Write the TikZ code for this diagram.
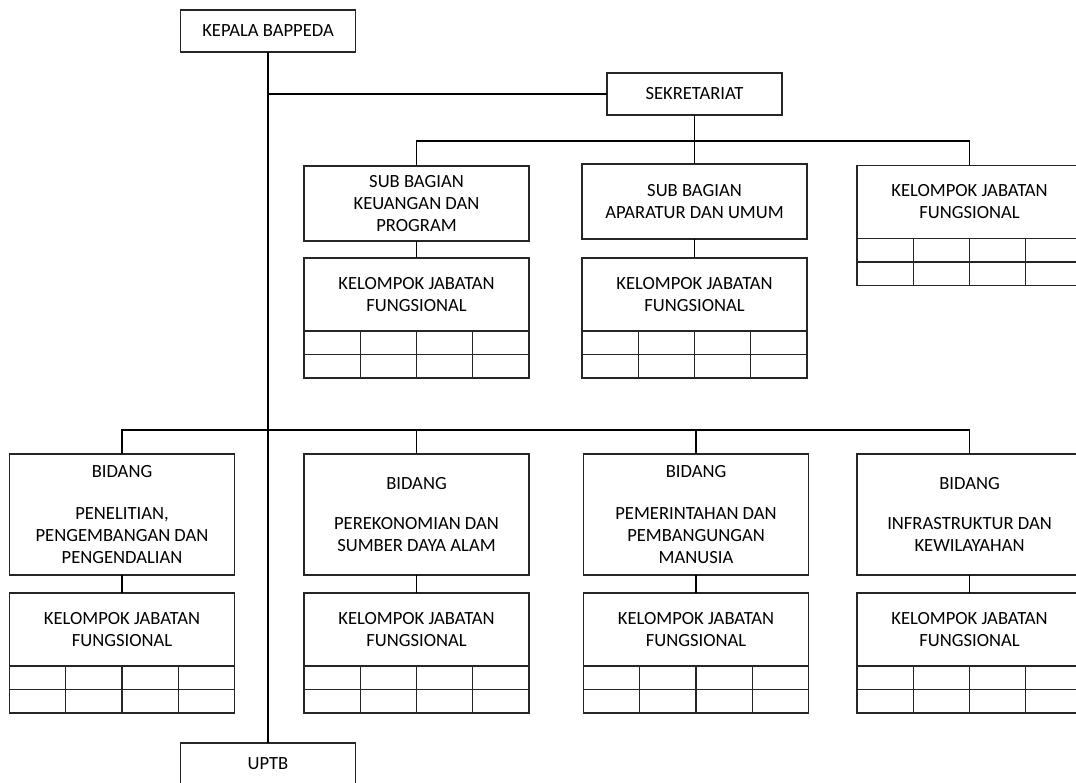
\documentclass[tikz,border=0pt]{standalone}
\usepackage{fontspec}
\setmainfont{Carlito}
\usepackage{tikz}
\usetikzlibrary{calc, positioning}

\tikzset{
  unit/.style = {draw = black!85, line width = 1.1pt, fill = white, align = center,
    inner sep = 0pt, outer sep = 0pt, font = \fontsize{18.6}{22}\selectfont},
  small unit/.style = {unit, minimum width = 175, minimum height = 42},
  sub unit/.style = {unit, minimum width = 225, minimum height = 75},
  kjf unit/.style = {unit, minimum width = 225, minimum height = 73},
  bid unit/.style = {unit, minimum width = 225, minimum height = 121},
  link/.style = {draw = black, line width = 1.1pt}
}
% table of four columns and two rows under a KELOMPOK JABATAN box
\newcommand{\kjfgrid}[1]{%
  \draw[link, draw = black!85] (#1.south west) rectangle ++(225,47);
  \draw[link, draw = black!85] ($(#1.south west)+(0,23.5)$) -- ++(225,0);
  \foreach \c in {1,2,3}
    \draw[link, draw = black!85] ($(#1.south west)+(56.25*\c,0)$) -- ++(0,47);
}

\begin{document}
\begin{tikzpicture}[x=1pt, y=-1pt]
      \clip (0, 0) rectangle (1076, 783);
      \fill[white] (0, 0) rectangle (1076, 783);

      % top level
      \node[small unit] (kepala) at (268, 31) {KEPALA BAPPEDA};
      \node[small unit] (sekre) at (694.5, 94) {SEKRETARIAT};
      \node[small unit] (uptb) at (268, 764) {UPTB};

      % sekretariat branch
      \node[sub unit] (subku) at (416.5, 203.5) {SUB BAGIAN\\KEUANGAN DAN\\PROGRAM};
      \node[sub unit] (subau) at (694.5, 201.5) {SUB BAGIAN\\APARATUR DAN UMUM};
      \node[kjf unit] (kjfsek) at (969.5, 202) {KELOMPOK JABATAN\\FUNGSIONAL};
      \node[kjf unit] (kjfku) at (416.5, 294.5) {KELOMPOK JABATAN\\FUNGSIONAL};
      \node[kjf unit] (kjfau) at (694.5, 294.5) {KELOMPOK JABATAN\\FUNGSIONAL};

      % bidang row
      \node[bid unit] (bidpp) at (122, 514.5) {BIDANG\\[20pt]PENELITIAN,\\PENGEMBANGAN DAN\\PENGENDALIAN};
      \node[bid unit] (bidps) at (416.5, 514.5) {BIDANG\\[18pt]PEREKONOMIAN DAN\\SUMBER DAYA ALAM};
      \node[bid unit] (bidpm) at (696, 514.5) {BIDANG\\[20pt]PEMERINTAHAN DAN\\PEMBANGUNGAN\\MANUSIA};
      \node[bid unit] (bidik) at (969.5, 514.5) {BIDANG\\[18pt]INFRASTRUKTUR DAN\\KEWILAYAHAN};
      \node[kjf unit] (kjfpp) at (122, 629.5) {KELOMPOK JABATAN\\FUNGSIONAL};
      \node[kjf unit] (kjfps) at (416.5, 629.5) {KELOMPOK JABATAN\\FUNGSIONAL};
      \node[kjf unit] (kjfpm) at (696, 629.5) {KELOMPOK JABATAN\\FUNGSIONAL};
      \node[kjf unit] (kjfik) at (969.5, 629.5) {KELOMPOK JABATAN\\FUNGSIONAL};

      \foreach \k in {kjfsek, kjfku, kjfau, kjfpp, kjfps, kjfpm, kjfik}
        \kjfgrid{\k};

      % connectors
      \coordinate (spine) at (kepala.south);
      \draw[link] (kepala.south) -- (uptb.north);
      \draw[link] (spine |- sekre.west) -- (sekre.west);
      \coordinate (sekbar) at (0, 141);
      \draw[link] (sekre.south) -- (sekre.south |- sekbar);
      \draw[link] (subku.north) -- (subku.north |- sekbar) -- (kjfsek.north |- sekbar) -- (kjfsek.north);
      \draw[link] (subau.north) -- (subau.north |- sekbar);
      \draw[link] (subku.south) -- (kjfku.north);
      \draw[link] (subau.south) -- (kjfau.north);

      \coordinate (bidbar) at (0, 430);
      \draw[link] (bidpp.north) -- (bidpp.north |- bidbar) -- (bidik.north |- bidbar) -- (bidik.north);
      \foreach \b in {bidps, bidpm}
        \draw[link] (\b.north) -- (\b.north |- bidbar);
      \foreach \b/\k in {bidpp/kjfpp, bidps/kjfps, bidpm/kjfpm, bidik/kjfik}
        \draw[link] (\b.south) -- (\k.north);
    \end{tikzpicture}
\end{document}
